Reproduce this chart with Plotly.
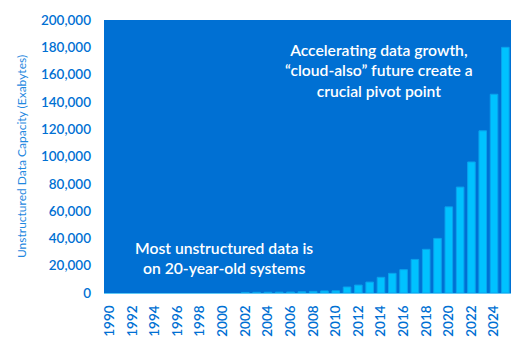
import plotly.graph_objects as go

# Unstructured data capacity by year (exabytes)
years = list(range(1990, 2026))
capacity = [
    0, 0, 0, 0, 0, 0, 0, 0, 0, 0, 0, 0,          # 1990-2001
    400, 500, 550, 600, 700, 900, 1200, 1500,     # 2002-2009
    1600, 4400, 5800, 8000, 11500, 14400, 17100,  # 2010-2016
    24600, 32000, 40000, 63100, 77600, 96000,     # 2017-2022
    118800, 145600, 180000,                       # 2023-2025
]

y_ticks = list(range(0, 200001, 20000))
x_ticks = list(range(1990, 2025, 2))

BLUE = "#0070D3"
BAR = "#00C2FF"

fig = go.Figure(
    go.Bar(
        x=years,
        y=capacity,
        marker=dict(
            color=BAR,
            line=dict(color="#0AA2EC", width=[1 if v > 0 else 0 for v in capacity]),
        ),
        hoverinfo="skip",
    )
)

note_font = dict(family="Lato", size=15.7, color="white", weight=600)
fig.add_annotation(
    x=0.676, y=0.815, xref="paper", yref="paper",
    xanchor="center", yanchor="middle",
    text="Accelerating data growth,<br>“cloud-also” future create a<br>crucial pivot point",
    showarrow=False, align="center", font=note_font,
)
fig.add_annotation(
    x=0.294, y=0.130, xref="paper", yref="paper",
    xanchor="center", yanchor="middle",
    text="Most unstructured data is<br>on 20-year-old systems",
    showarrow=False, align="center", font=note_font,
)

tick_font = dict(family="Lato", size=13.5, color=BLUE, weight=600)

fig.update_layout(
    width=527, height=349,
    margin=dict(l=104, r=16, t=18, b=55),
    paper_bgcolor="white",
    plot_bgcolor=BLUE,
    bargap=0.33,
    showlegend=False,
    font=dict(family="Lato", color=BLUE),
)
fig.update_xaxes(
    range=[1989.5, 2025.5],
    tickmode="array", tickvals=x_ticks, ticktext=[str(t) for t in x_ticks],
    tickangle=-90,
    tickfont=tick_font,
    showgrid=False, zeroline=False,
    showline=True, linecolor="#5FC8F5", linewidth=1,
    ticks="", ticklabelstandoff=6,
)
fig.update_yaxes(
    range=[0, 200000],
    tickmode="array", tickvals=y_ticks, ticktext=[f"{t:,}" for t in y_ticks],
    tickfont=tick_font,
    showgrid=False, zeroline=False,
    ticks="", ticklabelstandoff=12,
    title=dict(text="Unstructured Data Capacity (Exabytes)",
               font=dict(family="Lato", size=12, color="#1F88E0"),
               standoff=11),
)

fig.write_html("out.html")
